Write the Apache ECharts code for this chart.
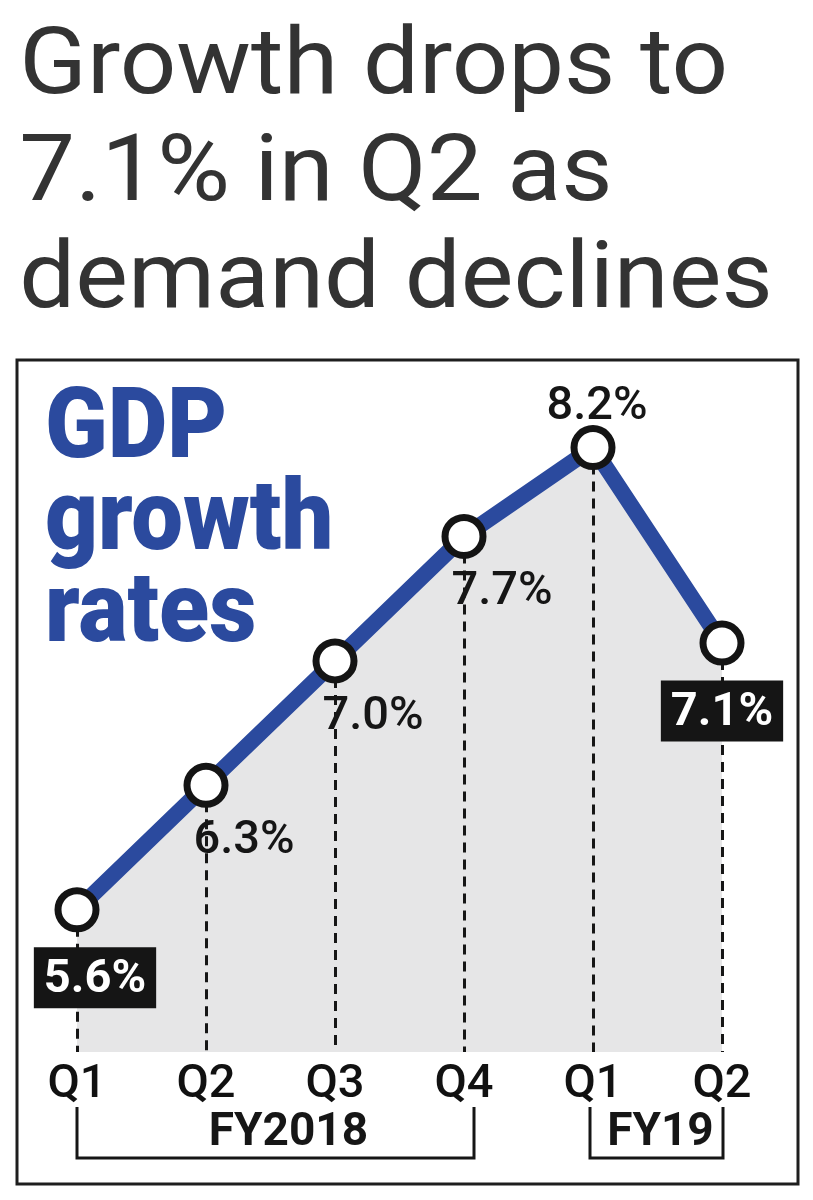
<!DOCTYPE html>
<html>
<head>
<meta charset="utf-8">
<script src="https://cdn.jsdelivr.net/npm/echarts@6/dist/echarts.min.js"></script>
<style>
html,body{margin:0;padding:0;background:#fff;}
#chart{width:813px;height:1200px;}
</style>
</head>
<body>
<div id="chart"></div>
<script>
// ---- data ----
const quarters = ['Q1', 'Q2', 'Q3', 'Q4', 'Q1', 'Q2'];
const fiscalYears = ['FY2018', 'FY2018', 'FY2018', 'FY2018', 'FY19', 'FY19'];
const growth = [5.6, 6.3, 7.0, 7.7, 8.2, 7.1];
const valueLabels = ['5.6%', '6.3%', '7.0%', '7.7%', '8.2%', '7.1%'];
const headline = 'Growth drops to\n7.1% in Q2 as\ndemand declines';
const panelTitle = 'GDP\ngrowth\nrates';

// ---- build ----
const categories = quarters.map((q, i) => fiscalYears[i] + ' ' + q);
const Y_MIN = 4.8, Y_MAX = 8.4;
const COND = 'Roboto, sans-serif';
const BLUE = '#2b4a9e';

const maxIdx = growth.indexOf(Math.max(...growth));
const boxed = new Set([0, growth.length - 1]);

const lineData = growth.map((v, i) => {
  let label;
  if (i === maxIdx) {
    label = { position: 'top', distance: 0, offset: [4, 6], color: '#161616', fontSize: 47, fontWeight: 500, fontFamily: COND };
  } else if (boxed.has(i)) {
    label = {
      position: 'bottom', distance: 15, color: '#ffffff', fontSize: 47, fontWeight: 'bold',
      fontFamily: COND, backgroundColor: '#151515', padding: [9, 10, 5, 10],
      offset: [i === 0 ? 18 : 0, 0]
    };
  } else {
    label = { position: 'bottom', distance: 10, color: '#161616', fontSize: 47, fontWeight: 500, fontFamily: COND, offset: [38, 0] };
  }
  return { value: v, label: label };
});

const chart = echarts.init(document.getElementById('chart'), null, { renderer: 'canvas' });

const option = {
  backgroundColor: '#ffffff',
  animation: false,
  grid: { left: 77, right: 91, top: 412, bottom: 148 },
  xAxis: {
    type: 'category',
    data: categories,
    boundaryGap: false,
    axisLine: { show: false },
    axisTick: { show: false },
    splitLine: { show: false },
    axisLabel: {
      formatter: (val, idx) => quarters[idx],
      interval: 0,
      margin: 10,
      fontSize: 47,
      fontWeight: 500,
      fontFamily: COND,
      color: '#111111'
    }
  },
  yAxis: {
    type: 'value', min: Y_MIN, max: Y_MAX,
    show: false,
    splitLine: { show: false }
  },
  series: [
    {
      name: 'area', type: 'line', data: growth, z: 1,
      showSymbol: false, silent: true,
      lineStyle: { width: 0, opacity: 0 },
      areaStyle: { color: '#e6e6e7', opacity: 1, origin: 'start' }
    },
    {
      name: 'guides', type: 'line', data: growth, z: 2,
      showSymbol: false, silent: true,
      lineStyle: { width: 0, opacity: 0 },
      markLine: {
        z: 2,
        silent: true, symbol: ['none', 'none'], animation: false,
        label: { show: false },
        lineStyle: { type: [10, 7], color: '#161616', width: 3 },
        data: growth.map((v, i) => [
          { coord: [categories[i], v] },
          { coord: [categories[i], Y_MIN] }
        ])
      }
    },
    {
      name: 'GDP growth', type: 'line', data: lineData, z: 3,
      symbol: 'circle', symbolSize: 38,
      lineStyle: { color: BLUE, width: 16 },
      itemStyle: { color: '#ffffff', borderColor: '#141414', borderWidth: 7 },
      label: { show: true, formatter: p => valueLabels[p.dataIndex] }
    }
  ]
};
chart.setOption(option);

// ---- brackets & fiscal year labels, positioned from the axis scale ----
const px = i => chart.convertToPixel({ xAxisIndex: 0 }, categories[i]);
const yBase = chart.convertToPixel({ yAxisIndex: 0 }, Y_MIN);
const groups = [];
fiscalYears.forEach((fy, i) => {
  const g = groups.find(x => x.name === fy);
  if (g) g.end = i; else groups.push({ name: fy, start: i, end: i });
});
const graphics = [
  {
    type: 'text', silent: true, x: 21, y: 16, scaleX: 1.08, originX: 21, originY: 16,
    style: {
      text: headline, fill: '#333333', fontSize: 92, fontWeight: 'normal',
      fontFamily: 'Roboto, sans-serif', lineHeight: 107
    }
  },
  {
    type: 'rect', silent: true,
    shape: { x: 17, y: 360, width: 781, height: 824 },
    style: { fill: 'none', stroke: '#1e1e1e', lineWidth: 3 }
  },
  {
    type: 'text', silent: true, x: 42, y: 386, scaleX: 0.93, originX: 42, originY: 386,
    style: {
      text: panelTitle, fill: BLUE, fontSize: 99, fontWeight: 900,
      fontFamily: 'Roboto, sans-serif', lineHeight: 92
    }
  }
];
const topY = yBase + 55, botY = yBase + 106;
groups.forEach((g, k) => {
  const x1 = px(g.start) + (k === 0 ? 0 : -3);
  const x2 = px(g.end) + (k === 0 ? 10 : 1);
  graphics.push({
    type: 'polyline', silent: true,
    shape: { points: [[x1, topY], [x1, botY], [x2, botY], [x2, topY]] },
    style: { stroke: '#161616', lineWidth: 3, fill: 'none' }
  });
  graphics.push({
    type: 'text', silent: true, x: (x1 + x2) / 2 + (k === 0 ? 13 : 4), y: yBase + 81,
    style: {
      text: g.name, fill: '#161616', fontSize: 46, fontWeight: 'bold', fontFamily: COND,
      align: 'center', verticalAlign: 'middle'
    }
  });
});
chart.setOption({ graphic: graphics });
</script>
</body>
</html>
